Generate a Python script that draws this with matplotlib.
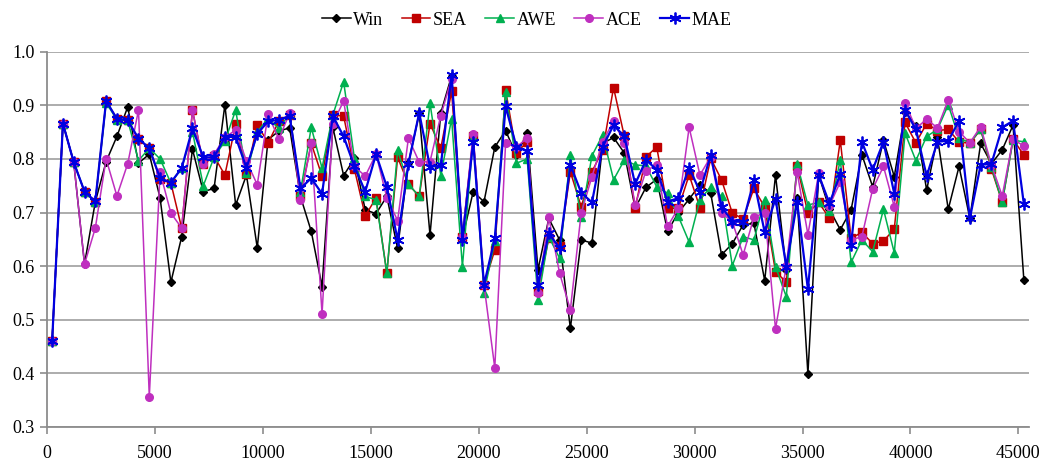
import numpy as np
import matplotlib
matplotlib.use("Agg")
import matplotlib.pyplot as plt

# Evaluation points (instances processed)
x_points = [250 + 500 * i for i in range(91)]

win = [0.460, 0.866, 0.794, 0.604, 0.720, 0.795, 0.842, 0.897, 0.792, 0.809,
       0.727, 0.570, 0.655, 0.818, 0.739, 0.745, 0.901, 0.714, 0.770, 0.634,
       0.836, 0.852, 0.858, 0.730, 0.665, 0.562, 0.859, 0.769, 0.801, 0.705,
       0.698, 0.730, 0.633, 0.792, 0.885, 0.658, 0.886, 0.955, 0.652, 0.739,
       0.720, 0.822, 0.853, 0.807, 0.848, 0.593, 0.689, 0.649, 0.484, 0.649,
       0.643, 0.829, 0.840, 0.811, 0.708, 0.747, 0.762, 0.665, 0.700, 0.725,
       0.752, 0.736, 0.621, 0.642, 0.677, 0.680, 0.573, 0.770, 0.593, 0.728,
       0.399, 0.770, 0.706, 0.668, 0.705, 0.808, 0.748, 0.835, 0.767, 0.888,
       0.862, 0.742, 0.840, 0.706, 0.786, 0.689, 0.829, 0.791, 0.817, 0.863,
       0.575]

sea = [0.460, 0.866, 0.794, 0.739, 0.720, 0.908, 0.875, 0.872, 0.837, 0.820,
       0.762, 0.755, 0.671, 0.891, 0.790, 0.805, 0.770, 0.865, 0.771, 0.864,
       0.830, 0.870, 0.882, 0.730, 0.829, 0.768, 0.882, 0.880, 0.781, 0.694,
       0.727, 0.587, 0.803, 0.753, 0.730, 0.866, 0.820, 0.926, 0.655, 0.842,
       0.565, 0.630, 0.929, 0.811, 0.832, 0.553, 0.652, 0.637, 0.776, 0.711,
       0.776, 0.817, 0.933, 0.842, 0.708, 0.804, 0.822, 0.708, 0.708, 0.770,
       0.709, 0.801, 0.761, 0.699, 0.688, 0.745, 0.710, 0.590, 0.570, 0.787,
       0.699, 0.719, 0.689, 0.835, 0.652, 0.663, 0.642, 0.647, 0.669, 0.868,
       0.830, 0.866, 0.853, 0.855, 0.832, 0.829, 0.855, 0.781, 0.719, 0.837,
       0.807]

awe = [0.460, 0.866, 0.794, 0.739, 0.720, 0.905, 0.873, 0.872, 0.797, 0.820,
       0.800, 0.755, 0.783, 0.851, 0.750, 0.803, 0.833, 0.891, 0.773, 0.850,
       0.876, 0.857, 0.884, 0.739, 0.859, 0.783, 0.882, 0.944, 0.801, 0.730,
       0.724, 0.587, 0.816, 0.753, 0.730, 0.904, 0.769, 0.875, 0.599, 0.840,
       0.550, 0.646, 0.925, 0.792, 0.800, 0.537, 0.655, 0.615, 0.807, 0.691,
       0.806, 0.845, 0.761, 0.798, 0.789, 0.787, 0.748, 0.736, 0.693, 0.645,
       0.724, 0.748, 0.730, 0.601, 0.655, 0.649, 0.724, 0.599, 0.543, 0.791,
       0.714, 0.719, 0.702, 0.798, 0.607, 0.649, 0.627, 0.706, 0.625, 0.848,
       0.797, 0.842, 0.855, 0.901, 0.839, 0.830, 0.855, 0.785, 0.719, 0.835,
       0.832]

ace = [0.460, 0.866, 0.794, 0.604, 0.671, 0.800, 0.731, 0.791, 0.891, 0.356,
       0.775, 0.699, 0.671, 0.891, 0.790, 0.809, 0.840, 0.854, 0.796, 0.752,
       0.883, 0.837, 0.886, 0.724, 0.830, 0.511, 0.866, 0.908, 0.786, 0.768,
       0.809, 0.728, 0.685, 0.839, 0.794, 0.795, 0.881, 0.950, 0.655, 0.847,
       0.565, 0.410, 0.829, 0.822, 0.839, 0.550, 0.691, 0.587, 0.519, 0.699,
       0.767, 0.832, 0.871, 0.829, 0.714, 0.778, 0.789, 0.674, 0.708, 0.859,
       0.770, 0.804, 0.699, 0.683, 0.621, 0.691, 0.700, 0.483, 0.600, 0.776,
       0.659, 0.773, 0.713, 0.757, 0.649, 0.655, 0.744, 0.786, 0.711, 0.905,
       0.857, 0.874, 0.858, 0.910, 0.851, 0.830, 0.860, 0.789, 0.731, 0.837,
       0.824]

mae = [0.460, 0.866, 0.794, 0.739, 0.721, 0.908, 0.875, 0.872, 0.838, 0.820,
       0.764, 0.756, 0.783, 0.857, 0.803, 0.803, 0.841, 0.841, 0.783, 0.847,
       0.870, 0.873, 0.880, 0.745, 0.764, 0.735, 0.880, 0.842, 0.786, 0.739,
       0.809, 0.748, 0.649, 0.791, 0.886, 0.785, 0.788, 0.957, 0.649, 0.832,
       0.565, 0.652, 0.898, 0.823, 0.814, 0.565, 0.661, 0.634, 0.789, 0.737,
       0.719, 0.823, 0.863, 0.842, 0.753, 0.798, 0.780, 0.720, 0.727, 0.784,
       0.739, 0.807, 0.711, 0.683, 0.683, 0.760, 0.663, 0.726, 0.599, 0.720,
       0.557, 0.770, 0.717, 0.772, 0.640, 0.832, 0.780, 0.832, 0.735, 0.891,
       0.855, 0.768, 0.832, 0.834, 0.871, 0.689, 0.789, 0.791, 0.859, 0.871,
       0.716]

series_names = ["Win", "SEA", "AWE", "ACE", "MAE"]
x_ticks = [0, 5000, 10000, 15000, 20000, 25000, 30000, 35000, 40000, 45000]
y_ticks = [0.3, 0.4, 0.5, 0.6, 0.7, 0.8, 0.9, 1.0]

plt.rcParams["font.family"] = ["Liberation Serif", "DejaVu Serif"]

fig = plt.figure(figsize=(10.43, 4.63), dpi=100)
ax = fig.add_axes([0.0448, 0.0778, 0.942, 0.8105])

styles = [
    dict(color="#000000", marker="D", ms=4.0, lw=1.1, mfc="#000000", mec="#000000"),
    dict(color="#c00000", marker="s", ms=5.5, lw=1.1, mfc="#c00000", mec="#c00000"),
    dict(color="#00b050", marker="^", ms=5.5, lw=1.1, mfc="#00b050", mec="#00b050"),
    dict(color="#bf2fbf", marker="o", ms=5.5, lw=1.1, mfc="#bf2fbf", mec="#bf2fbf"),
    dict(color="#0000e0", marker=(6, 2, 0), ms=8.5, lw=1.6, mfc="#0000e0", mec="#0000e0", mew=1.3),
]

for name, vals, st in zip(series_names, [win, sea, awe, ace, mae], styles):
    ax.plot(x_points, vals, label=name, **st)

ax.set_xlim(0, 45500)
ax.set_ylim(0.3, 1.0)
ax.set_xticks(x_ticks)
ax.set_xticklabels([str(v) for v in x_ticks])
ax.set_yticks(y_ticks)
ax.set_yticklabels([f"{v:.1f}" for v in y_ticks])

ax.grid(axis="y", color="#a6a6a6", lw=1.3)
ax.set_axisbelow(True)
for side in ("top", "right"):
    ax.spines[side].set_visible(False)
for side in ("left", "bottom"):
    ax.spines[side].set_color("#8c8c8c")
    ax.spines[side].set_linewidth(1.3)
ax.tick_params(axis="both", colors="#8c8c8c", labelcolor="black", labelsize=13,
               length=5, width=1.2, direction="out")
ax.tick_params(axis="x", pad=8)

fig.legend(loc="upper center", bbox_to_anchor=(0.505, 1.01), ncol=5, frameon=False,
           fontsize=13, handlelength=1.6, handletextpad=0.15, columnspacing=1.0)

fig.savefig("out.png", dpi=100)
